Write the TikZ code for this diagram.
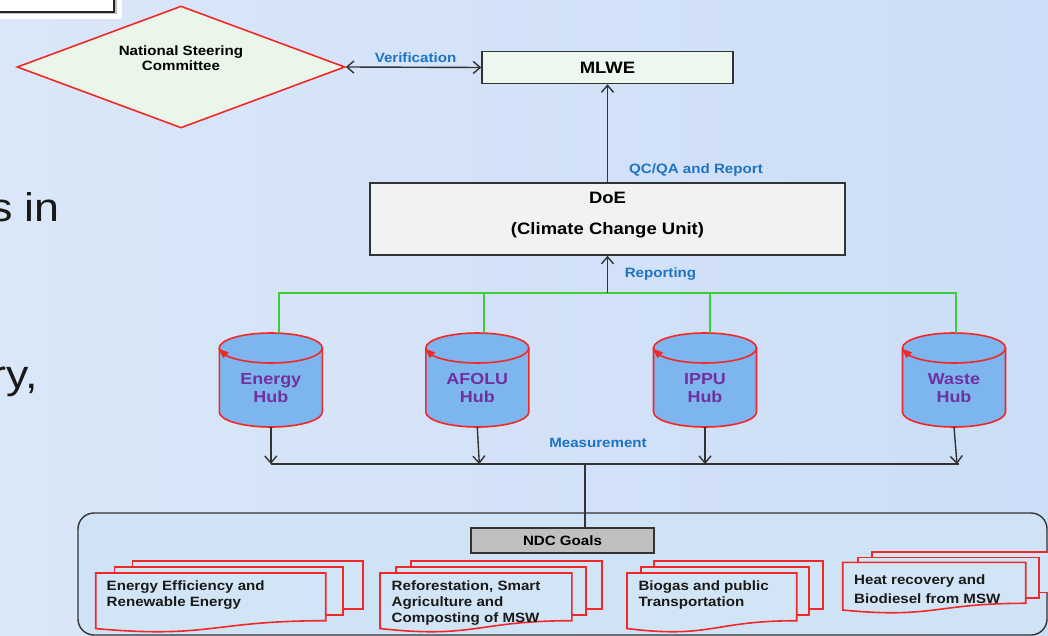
\documentclass[tikz,border=0pt]{standalone}
\usepackage{fontspec}
\setmainfont{Liberation Sans}[FakeStretch=1.12]
\usetikzlibrary{arrows.meta,shapes.geometric,calc}
\definecolor{bgL}{HTML}{DAE7F8}
\definecolor{bgR}{HTML}{CCDDF7}
\definecolor{nscfill}{HTML}{EAF6EA}
\definecolor{mlwefill}{HTML}{EEF7EE}
\definecolor{doefill}{HTML}{F2F2F2}
\definecolor{ndcfill}{HTML}{BFBFBF}
\definecolor{hubfill}{HTML}{7DB6EE}
\definecolor{docfill}{HTML}{D2E5F7}
\definecolor{contfill}{HTML}{D0E3F6}
\definecolor{shred}{HTML}{F02828}
\definecolor{lblblue}{HTML}{1E73C3}
\definecolor{hubpurple}{HTML}{7030A0}
\definecolor{busgreen}{HTML}{3CCD3C}
\definecolor{edge}{HTML}{333333}
\newcommand\docfront[4]{%
  \pgfmathsetmacro\dfxm{(#1+#3)/2}%
  \pgfmathsetmacro\dfyr{#2+0.802*#4}%
  \pgfmathsetmacro\dfyc{#2+1.107*#4}%
  \pgfmathsetmacro\dfyl{#2+0.934*#4}%
  \draw[docshape] (#1,#2) -- (#3,#2) -- (#3,\dfyr) .. controls (\dfxm,\dfyr) and (\dfxm,\dfyc) .. (#1,\dfyl) -- cycle;}
\newcommand\docback[4]{\draw[docshape] (#1,#2) rectangle (#3,#4);}
\tikzset{
  conn/.style={line width=1.4pt, draw=edge},
  arr/.style={conn, -{Straight Barb[length=7pt,width=12pt,line width=1.4pt]}},
  dblarr/.style={conn, {Straight Barb[length=7pt,width=12pt,line width=1.4pt]}-{Straight Barb[length=7pt,width=12pt,line width=1.4pt]}},
  bus/.style={line width=1.5pt, draw=busgreen},
  box/.style={draw=edge, line width=1.5pt, inner sep=0, rectangle},
  lbl/.style={font=\bfseries\fontsize{13.5}{16}\selectfont, text=lblblue, inner sep=0, anchor=base},
  bigtext/.style={font=\bfseries\fontsize{16.5}{31}\selectfont, align=center, inner sep=0},
  hubtext/.style={font=\bfseries\fontsize{16}{18.3}\selectfont, text=hubpurple, align=center, inner sep=0, anchor=north},
  doctext/.style={font=\bfseries\fontsize{13.5}{15.7}\selectfont, align=left, anchor=north west, inner sep=0, text=black!90},
  docshape/.style={draw=shred, fill=docfill, line width=1.6pt},
  slidetxt/.style={font=\fontsize{40}{44}\selectfont, text=black!90, inner sep=0, anchor=base east},
}
\begin{document}
\begin{tikzpicture}[x=1pt,y=-1pt]
\useasboundingbox (0,0) rectangle (1048,636);
\clip (0,0) rectangle (1048,636);
\shade[left color=bgL, right color=bgR] (0,0) rectangle (1048,636);
% top-left remnant box
\fill[white] (0,0) rectangle (122,19);
\fill[black!25] (-5,-5) rectangle (116.5,14.5);
\filldraw[fill=white, draw=black!85, line width=1.5pt] (-5,-5) rectangle (114,12);
% slide text fragments
\node[slidetxt] (frag1) at (60,222) {s in};
\node[slidetxt] (frag2) at (38.5,388) {ry,};
% National Steering Committee
\node[diamond, aspect=2.69, draw=shred, fill=nscfill, line width=1.6pt, minimum width=328pt, minimum height=122pt, inner sep=0] (nsc) at (181,67) {};
\node[font=\bfseries\fontsize{13.5}{15}\selectfont, align=center, inner sep=0, anchor=north] (nscT) at (181,45.5) {National Steering\\Committee};
% MLWE
\node[box, fill=mlwefill, minimum width=251pt, minimum height=32pt, font=\bfseries\fontsize{16.5}{18}\selectfont] (mlwe) at (607.5,67.5) {MLWE};
\draw[dblarr] (nsc.east) -- (mlwe.west);
\node[lbl] (verif) at (415.5,62.5) {Verification};
% DoE
\node[box, fill=doefill, minimum width=475pt, minimum height=72pt] (doe) at (607.5,219) {};
\node[bigtext, anchor=north] (doeT) at (607.5,191.5) {DoE\\(Climate Change Unit)};
\draw[arr] (doe.north) -- (mlwe.south);
\node[lbl] (qcqa) at (696,174) {QC/QA and Report};
% hubs
\foreach \n/\cx/\lab in {energy/270.8/Energy, afolu/477.3/AFOLU, ippu/705/IPPU, waste/954/Waste}{
  \fill[hubfill] (\cx-51.5,348) -- (\cx-51.5,412) arc[start angle=180,end angle=360,x radius=51.5pt,y radius=15pt] -- (\cx+51.5,348) arc[start angle=0,end angle=180,x radius=51.5pt,y radius=15pt] -- cycle;
  \draw[shred, line width=1.6pt] (\cx-51.5,348) -- (\cx-51.5,412) arc[start angle=180,end angle=360,x radius=51.5pt,y radius=15pt] -- (\cx+51.5,348);
  \draw[shred, line width=1.6pt] (\cx,348) ellipse[x radius=51.5pt, y radius=15pt];
  \fill[shred] (\cx-52.5,348.5) -- (\cx-42,352.5) -- (\cx-47.5,358) -- cycle;
  \node[minimum width=103pt, minimum height=94pt, inner sep=0] (\n) at (\cx,380) {};
  \node[hubtext] (\n-t) at (\cx,373) {\lab\\Hub};
}
% reporting bus
\coordinate (rep) at (607.5,293);
\draw[bus] ([xshift=8.2pt]energy.north) |- (rep) -| ([xshift=2pt]waste.north);
\draw[bus] ([xshift=6.7pt]afolu.north) -- ([xshift=6.7pt]afolu.north |- rep);
\draw[bus] ([xshift=5pt]ippu.north) -- ([xshift=5pt]ippu.north |- rep);
\draw[arr] (rep) -- (doe.south);
\node[lbl] (reporting) at (660.5,277.5) {Reporting};
% measurement bus
\coordinate (mL) at (271,464);
\coordinate (mR) at (959,464);
\coordinate (mC) at (585,464);
\draw[conn] (mL) -- (mR);
\draw[arr] (energy.south) -- (energy.south |- mL);
\draw[arr] (afolu.south) -- ([xshift=2pt]afolu.south |- mL);
\draw[arr] (ippu.south) -- (ippu.south |- mL);
\draw[arr] (waste.south) -- ([xshift=3pt]waste.south |- mL);
\node[lbl] (meas) at (598,447) {Measurement};
% NDC area
\node[draw=edge, line width=1.4pt, rounded corners=16pt, fill=contfill, minimum width=969pt, minimum height=122pt, inner sep=0] (area) at (562.5,574) {};
\node[box, fill=ndcfill, minimum width=183pt, minimum height=25pt, font=\bfseries\fontsize{13.5}{16}\selectfont] (ndc) at (562.5,540.5) {NDC Goals};
\draw[conn] (mC) -- (mC |- ndc.north);
% goal stacks
\docback{132.5}{560.7}{362.9}{609}
\docback{114.3}{566.7}{343.2}{615}
\docfront{95.7}{573}{325.7}{59.5}
\node[doctext] (g1) at (106.5,581) {Energy Efficiency and\\Renewable Energy};
\docback{411}{560.7}{602}{609}
\docback{395.7}{566.7}{586}{615}
\docfront{380}{573}{571.8}{59.5}
\node[doctext] (g2) at (391.5,581) {Reforestation, Smart\\Agriculture and\\Composting of MSW};
\docback{654}{560.7}{823}{608.7}
\docback{641}{566.7}{809}{615}
\docfront{627}{573}{796.7}{59.5}
\node[doctext] (g3) at (638.3,581) {Biogas and public\\Transportation};
\docback{872}{551.7}{1056}{592.5}
\docback{857.7}{557.3}{1039}{598}
\docfront{842.7}{562.3}{1025.7}{51.1}
\node[doctext, font=\bfseries\fontsize{13.5}{19}\selectfont] (g4) at (854,575) {Heat recovery and\\Biodiesel from MSW};
\end{tikzpicture}
\end{document}
